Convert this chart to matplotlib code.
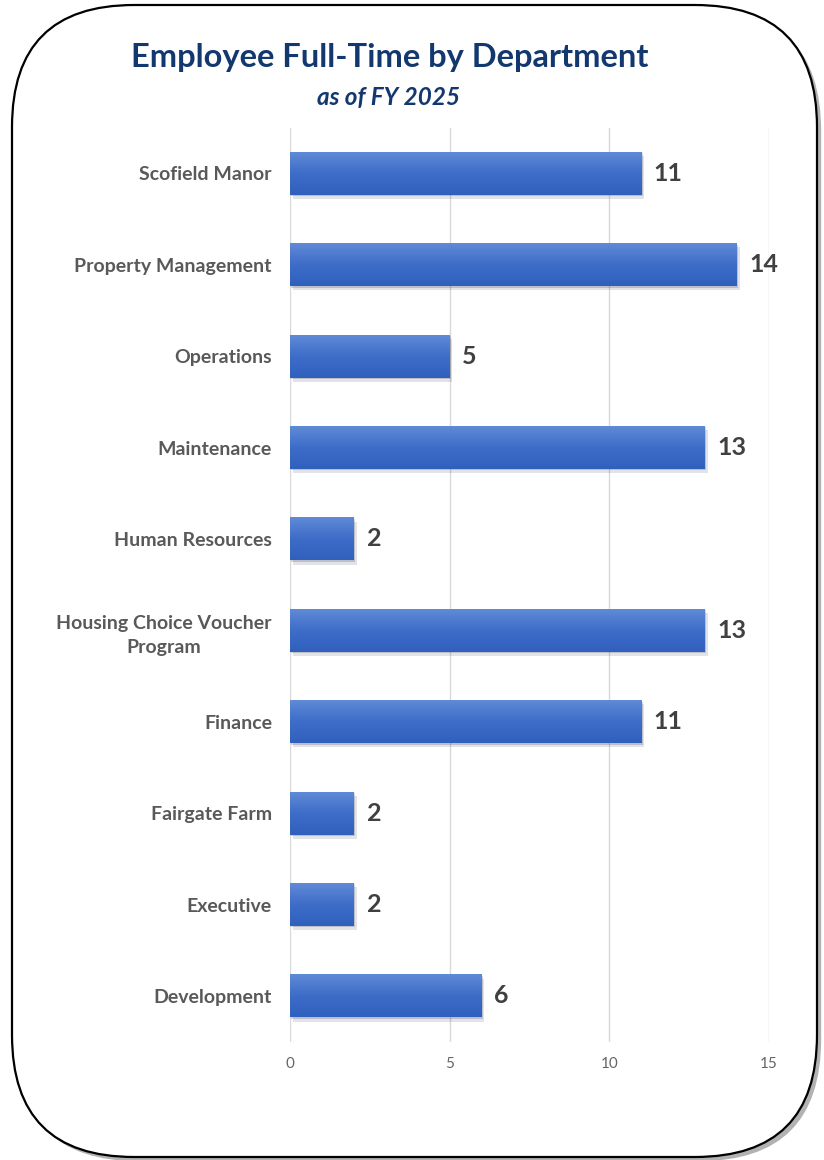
import numpy as np
import matplotlib.pyplot as plt
import matplotlib.patheffects as pe
from matplotlib.patches import FancyBboxPatch
from matplotlib.colors import LinearSegmentedColormap

plt.rcParams['font.family'] = ['Lato', 'DejaVu Sans']

# full-time headcount per department (top to bottom as listed)
departments = ['Scofield Manor', 'Property Management', 'Operations', 'Maintenance',
               'Human Resources', 'Housing Choice Voucher\nProgram', 'Finance',
               'Fairgate Farm', 'Executive', 'Development']
employees = [11, 14, 5, 13, 2, 13, 11, 2, 2, 6]

fig = plt.figure(figsize=(8.24, 11.6), dpi=100)

# rounded card behind the chart
bg = fig.add_axes([0, 0, 1, 1])
bg.set_xlim(0, 824)
bg.set_ylim(1160, 0)
bg.axis('off')
card = FancyBboxPatch((12, 5), 805, 1152, boxstyle='round,pad=0,rounding_size=122',
                      facecolor='white', edgecolor='black', linewidth=1.6,
                      path_effects=[pe.SimplePatchShadow(offset=(3, -3), shadow_rgbFace='black', alpha=0.3),
                                    pe.Normal()])
bg.add_patch(card)

fig.text(0.473, 0.950, 'Employee Full-Time by Department', ha='center', va='center',
         fontsize=23.5, fontweight='bold', color='#12386f')
fig.text(0.471, 0.916, 'as of FY 2025', ha='center', va='center',
         fontsize=17.5, fontweight='bold', fontstyle='italic', color='#12386f')

ax = fig.add_axes([0.352, 0.102, 0.581, 0.788])
ax.patch.set_alpha(0)

y = np.arange(len(departments))[::-1]
soft_shadow = [pe.SimplePatchShadow(offset=(1, -1), alpha=0.18),
               pe.SimplePatchShadow(offset=(2, -3), alpha=0.12),
               pe.Normal()]
bars = ax.barh(y, employees, height=0.47, color='#3d6cc8', zorder=3,
               path_effects=soft_shadow)

# vertical light-to-dark fill on each bar
grad = LinearSegmentedColormap.from_list('bar', ['#5f8ad6', '#3e6dc9', '#3060bd'])
for b in bars:
    x0, y0, w, h = b.get_x(), b.get_y(), b.get_width(), b.get_height()
    im = ax.imshow(np.linspace(0, 1, 64).reshape(-1, 1), cmap=grad, aspect='auto',
                   extent=(x0, x0 + w, y0, y0 + h), origin='upper', zorder=4)
    im.set_clip_path(b)

for yi, v in zip(y, employees):
    ax.text(v + 0.4, yi, str(v), va='center', ha='left', fontsize=18,
            fontweight='bold', color='#404040', zorder=5)

ax.set_xlim(0, 15)
ax.set_ylim(-0.5, len(departments) - 0.5)
ax.set_xticks([0, 5, 10, 15])
ax.set_yticks(y)
ax.set_yticklabels(departments, fontsize=14, fontweight='bold', color='#595959',
                   multialignment='center', linespacing=1.5)
ax.tick_params(axis='y', length=0, pad=13)
ax.tick_params(axis='x', length=0, pad=11, labelsize=11, labelcolor='#666666')
ax.grid(axis='x', color='#d9d9d9', linewidth=1, zorder=0)
for s in ax.spines.values():
    s.set_visible(False)

fig.savefig('out.png', dpi=100)
